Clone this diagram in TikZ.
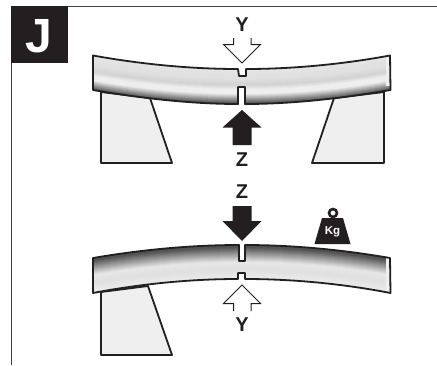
\documentclass[tikz,border=0pt]{standalone}
\usepackage{fontspec}
\setmainfont{Liberation Sans}
\definecolor{supp}{HTML}{EEEFEE}
\definecolor{ink}{HTML}{231F20}
\tikzset{
  outl/.style={line width=1.8pt,line join=round,draw=ink},
  supportbox/.style={outl,fill=supp},
  letter/.style={font=\bfseries\fontsize{20}{20}\selectfont,text=ink,inner sep=0pt},
  hollow/.style={line width=1pt,line join=miter,draw=ink},
  solidarrow/.style={fill=ink,draw=none},
}
\newcommand{\sagband}[2]{\draw[line width=1.6pt,color=#2] (93,55.5+#1) .. controls (140,64+#1) and (190,69+#1) .. (242,69+#1) .. controls (294,69+#1) and (344,64+#1) .. (390,55.5+#1);}
\newcommand{\hogband}[2]{\draw[line width=1.6pt,color=#2] (93,258+#1) .. controls (140,250+#1) and (190,245+#1) .. (242,245+#1) .. controls (294,245+#1) and (344,250+#1) .. (390,258+#1);}
\newcommand{\beamtop}{(93,55.5) .. controls (140,64) and (190,69) .. (238,69) -- (239,76) -- (246,76) -- (246,69) .. controls (294,69) and (344,64) .. (390,55.5) -- (390.5,90) .. controls (344,98) and (294,104) .. (245,104) -- (245,87) -- (238,87) -- (238,104) .. controls (190,104) and (140,98) .. (93,90) -- cycle}
\newcommand{\beamlow}{(93,258) .. controls (140,250) and (190,245) .. (239,245) -- (239,261) -- (245,261) -- (245,245) .. controls (294,245) and (344,250) .. (390,258) -- (390.5,293) .. controls (344,284) and (294,279) .. (245,279) -- (245,273) -- (238,273) -- (238,279) .. controls (190,279) and (140,284) .. (93,293) -- cycle}
\begin{document}
\begin{tikzpicture}[x=1pt,y=-1pt]
\useasboundingbox (0,0) rectangle (437,365);
\fill[white] (0,0) rectangle (437,365);
% frame
\draw[line width=1pt,ink!85] (437,6.5) -- (11.5,6.5) -- (11.5,365);
\fill[ink] (11,6) rectangle (68,63);
\node[font=\bfseries\fontsize{48}{48}\selectfont,text=white,inner sep=0pt] (tag) at (38.5,36.5) {J};
% supports top
\draw[supportbox] (101,92) -- (150,98) -- (172,163) -- (101,163) -- cycle;
\draw[supportbox] (384,92) -- (334,98) -- (312,163) -- (384,163) -- cycle;
% top beam
\begin{scope}
\clip \beamtop;
\foreach \i in {0,...,36}{
  \pgfmathsetmacro{\t}{\i/35}
  \pgfmathsetmacro{\g}{\t<0.3 ? 90-\t*8 : (\t<0.47 ? 87.6-(\t-0.3)*30 : (\t<0.6 ? 82.5+(\t-0.47)*85 : (\t<0.72 ? 93.5 : max(30,93.5-(\t-0.72)*225))))}
  \pgfmathsetmacro{\d}{100-\g}
  \sagband{\i}{black!\d}
}
\fill[supp] (385.5,50) rectangle (391,86);
\end{scope}
\draw[outl] \beamtop;
% top arrows
\node[letter] (y1) at (242,24.5) {Y};
\draw[hollow,fill=white] (233.5,38) -- (233.5,44.5) -- (223.5,44.5) -- (242,63) -- (260.5,44.5) -- (251,44.5) -- (251,38);
\fill[solidarrow] (242,110) -- (261.5,127.5) -- (251.5,127.5) -- (251.5,145) -- (232.5,145) -- (232.5,127.5) -- (222.5,127.5) -- cycle;
\node[letter] (z1) at (242,160) {Z};
% lower part
\node[letter] (z2) at (242,192) {Z};
\fill[solidarrow] (232.5,206) -- (251.5,206) -- (251.5,221) -- (261.5,221) -- (242,241) -- (222.5,221) -- (232.5,221) -- cycle;
% weight
\draw[line width=2.6pt,ink] (333,213) circle (4);
\fill[ink] (322,218) -- (343,218) -- (350.5,244) -- (314.5,244) -- cycle;
\node[font=\bfseries\fontsize{11.5}{11.5}\selectfont,text=white,inner sep=0pt] (kg) at (332.5,232) {Kg};
% lower support
\draw[supportbox] (101,292) -- (148,286) -- (172,355) -- (101,355) -- cycle;
% lower beam
\begin{scope}
\clip \beamlow;
\foreach \i in {0,...,36}{
  \pgfmathsetmacro{\t}{\i/35}
  \pgfmathsetmacro{\g}{\t<0.08 ? 32 : (\t<0.5 ? 32+(\t-0.08)*140 : (\t<0.72 ? 91-(\t-0.5)*15 : 88+(\t-0.72)*15))}
  \pgfmathsetmacro{\d}{100-\g}
  \hogband{\i}{black!\d}
}
\fill[supp] (385.5,250) rectangle (391,296);
\end{scope}
\draw[outl] \beamlow;
% lower hollow arrow
\draw[hollow,fill=white] (233.5,311) -- (233.5,303.5) -- (223.5,303.5) -- (242,285) -- (260.5,303.5) -- (251,303.5) -- (251,311);
\node[letter] (y2) at (242,325) {Y};
\end{tikzpicture}
\end{document}
